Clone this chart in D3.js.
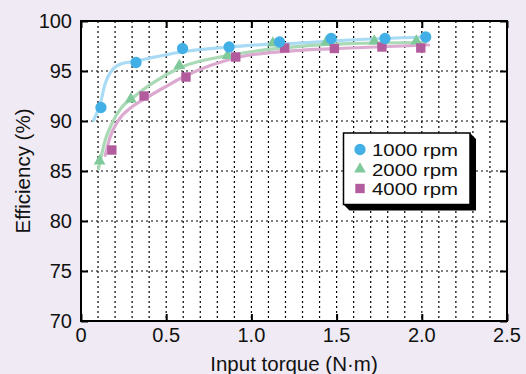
<!DOCTYPE html>
<html>
<head>
<meta charset="utf-8">
<script src="https://cdn.jsdelivr.net/npm/d3@7"></script>
<style>
html,body{margin:0;padding:0;background:#efeaf3;}
svg{display:block;}
text{font-family:"Liberation Sans",Arial,Helvetica,sans-serif;fill:#111;}
</style>
</head>
<body>
<svg id="chart" width="526" height="374"></svg>
<script>
// ---- data ----
const xTicks = [0, 0.5, 1.0, 1.5, 2.0, 2.5];
const xTickLabels = ["0", "0.5", "1.0", "1.5", "2.0", "2.5"];
const yTicks = [70, 75, 80, 85, 90, 95, 100];
const seriesNames = ["1000 rpm", "2000 rpm", "4000 rpm"];

const torque1000 = [0.117, 0.323, 0.596, 0.869, 1.165, 1.468, 1.784, 2.023];
const eff1000    = [91.35, 95.85, 97.25, 97.4, 97.9, 98.25, 98.25, 98.4];
const torque2000 = [0.109, 0.292, 0.577, 0.860, 1.126, 1.439, 1.721, 1.968];
const eff2000    = [86.0, 92.2, 95.55, 96.55, 97.8, 97.9, 98.0, 98.0];
const torque4000 = [0.181, 0.370, 0.616, 0.908, 1.195, 1.487, 1.766, 1.994];
const eff4000    = [87.1, 92.5, 94.4, 96.4, 97.3, 97.25, 97.4, 97.3];

// fitted trend curves
const fitX1000 = [0.074, 0.113, 0.142, 0.181, 0.240, 0.318, 0.415, 0.591, 0.873, 0.990, 1.282, 1.575, 2.023];
const fitY1000 = [90.07, 91.74, 93.74, 95.07, 95.74, 95.97, 96.34, 96.9, 97.4, 97.57, 97.8, 98.1, 98.4];
const fitX2000 = [0.103, 0.142, 0.181, 0.240, 0.298, 0.415, 0.591, 0.873, 1.282, 1.575, 2.023];
const fitY2000 = [85.24, 88.07, 89.74, 91.4, 92.24, 93.74, 95.4, 96.57, 97.47, 97.74, 97.85];
const fitX4000 = [0.142, 0.171, 0.220, 0.298, 0.376, 0.493, 0.600, 0.932, 1.282, 1.575, 2.040];
const fitY4000 = [86.57, 88.4, 90.07, 91.4, 92.24, 93.4, 94.4, 96.4, 97.07, 97.3, 97.6];

// ---- layout ----
const svg = d3.select("#chart");
const L = 81, R = 507, T = 21, B = 321;
const x = d3.scaleLinear().domain([0, 2.5]).range([L, R]);
const y = d3.scaleLinear().domain([70, 100]).range([B, T]);

const markerColors = ["#42b0e6", "#80c99b", "#b25b9d"];
const curveColors  = ["#a9dbf4", "#aad9b6", "#dcaad0"];

svg.append("rect").attr("x", L).attr("y", T).attr("width", R - L).attr("height", B - T).attr("fill", "#fff");

// grid
const minor = d3.range(1, 25).map(i => i / 10);
svg.append("g").selectAll("line").data(minor).join("line")
  .attr("x1", d => x(d)).attr("x2", d => x(d)).attr("y1", T).attr("y2", B)
  .attr("stroke", "#000").attr("stroke-width", 1.2).attr("stroke-dasharray", "2,3");
svg.append("g").selectAll("line").data(yTicks.slice(1, -1)).join("line")
  .attr("y1", d => y(d)).attr("y2", d => y(d)).attr("x1", L).attr("x2", R)
  .attr("stroke", "#000").attr("stroke-width", 1.2).attr("stroke-dasharray", "2,3");

// axes with inside ticks
const axB = d3.axisBottom(x).tickValues(xTicks).tickSize(-7).tickFormat("");
const axT = d3.axisTop(x).tickValues(xTicks).tickSize(-7).tickFormat("");
const axL = d3.axisLeft(y).tickValues(yTicks).tickSize(-7).tickFormat("");
const axR = d3.axisRight(y).tickValues(yTicks).tickSize(-7).tickFormat("");
[[axB, `translate(0,${B})`], [axT, `translate(0,${T})`], [axL, `translate(${L},0)`], [axR, `translate(${R},0)`]]
  .forEach(([ax, tr]) => {
    const g = svg.append("g").attr("transform", tr).call(ax);
    g.select(".domain").remove();
    g.selectAll("line").attr("stroke", "#000").attr("stroke-width", 2);
  });

// tick labels
svg.append("g").selectAll("text").data(xTicks).join("text")
  .attr("x", d => x(d)).attr("y", 342).attr("text-anchor", "middle")
  .attr("font-size", 20).text((d, i) => xTickLabels[i]);
svg.append("g").selectAll("text").data(yTicks).join("text")
  .attr("x", 72).attr("y", d => y(d) + 7).attr("text-anchor", "end")
  .attr("font-size", 20).text(d => d);

// axis titles
svg.append("text").attr("x", 294).attr("y", 371).attr("text-anchor", "middle")
  .attr("font-size", 20.5).text("Input torque (N·m)");
svg.append("text").attr("transform", "translate(30,171) rotate(-90)").attr("text-anchor", "middle")
  .attr("font-size", 20.5).text("Efficiency (%)");

// clip
svg.append("clipPath").attr("id", "clip").append("rect")
  .attr("x", L).attr("y", T).attr("width", R - L).attr("height", B - T);

// fitted curves
const fits = [[fitX1000, fitY1000], [fitX2000, fitY2000], [fitX4000, fitY4000]];
const line = d3.line().x(d => x(d[0])).y(d => y(d[1])).curve(d3.curveMonotoneX);
const cg = svg.append("g").attr("clip-path", "url(#clip)");
fits.forEach(([fx, fy], i) => {
  cg.append("path").datum(d3.zip(fx, fy)).attr("d", line)
    .attr("fill", "none").attr("stroke", curveColors[i]).attr("stroke-width", 3.2)
    .attr("stroke-linecap", "round");
});

// markers
const pts = [d3.zip(torque1000, eff1000), d3.zip(torque2000, eff2000), d3.zip(torque4000, eff4000)];
const symbols = [d3.symbolCircle, d3.symbolTriangle, d3.symbolSquare];
const sizes = [100, 60, 88];
const order = [1, 2, 0];
order.forEach(i => {
  svg.append("g").selectAll("path").data(pts[i]).join("path")
    .attr("transform", d => `translate(${x(d[0])},${y(d[1])})`)
    .attr("d", d3.symbol().type(symbols[i]).size(sizes[i]))
    .attr("fill", markerColors[i]);
});

// plot border
svg.append("rect").attr("x", L).attr("y", T).attr("width", R - L).attr("height", B - T)
  .attr("fill", "none").attr("stroke", "#000").attr("stroke-width", 2);

// legend
const lx0 = 343.5, ly0 = 133, lx1 = 470, ly1 = 204.5, off = 6;
svg.append("polygon")
  .attr("points", [[lx1, ly0], [lx1 + off, ly0 + off], [lx1 + off, ly1 + off], [lx0 + off, ly1 + off], [lx0, ly1], [lx1, ly1]].map(p => p.join(",")).join(" "))
  .attr("fill", "#000");
svg.append("rect").attr("x", lx0).attr("y", ly0).attr("width", lx1 - lx0).attr("height", ly1 - ly0)
  .attr("fill", "#fff").attr("stroke", "#000").attr("stroke-width", 1.5);
const legY = [149.5, 169, 188.5];
seriesNames.forEach((name, i) => {
  svg.append("path").attr("transform", `translate(360,${legY[i]})`)
    .attr("d", d3.symbol().type(symbols[i]).size(sizes[i]))
    .attr("fill", markerColors[i]);
  svg.append("text").attr("x", 372).attr("y", legY[i] + 6.5).attr("font-size", 17)
    .attr("textLength", 86).attr("lengthAdjust", "spacingAndGlyphs").text(name);
});
</script>
</body>
</html>
